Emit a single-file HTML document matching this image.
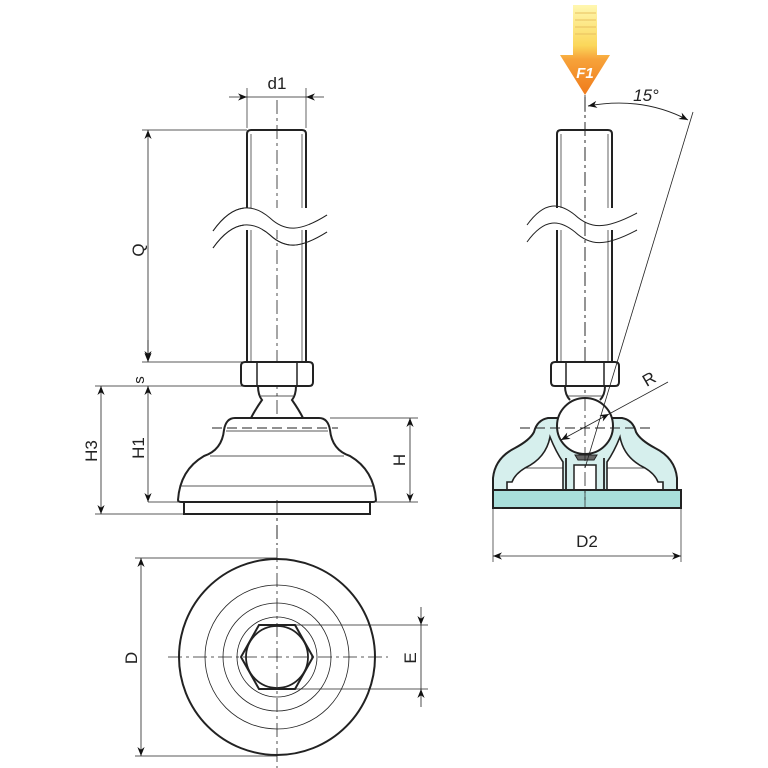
<!DOCTYPE html>
<html><head><meta charset="utf-8"><style>html,body{margin:0;padding:0;background:#fff}svg{display:block}</style></head>
<body>
<svg width="768" height="768" viewBox="0 0 768 768" xmlns="http://www.w3.org/2000/svg" font-family="Liberation Sans, DejaVu Sans, sans-serif">
<defs>
<marker id="a" viewBox="0 0 10 10" refX="10" refY="5" markerWidth="9" markerHeight="9" orient="auto-start-reverse" markerUnits="userSpaceOnUse"><path d="M0,1 L10,5 L0,9 L3,5z" fill="#111"/></marker>
<linearGradient id="g" x1="0" y1="0" x2="0" y2="1"><stop offset="0" stop-color="#fff7b0"/><stop offset="0.45" stop-color="#fbd75a"/><stop offset="0.6" stop-color="#f7a33a"/><stop offset="1" stop-color="#ef7a1a"/></linearGradient>
</defs>
<g fill="none" stroke="#222" stroke-width="1">

<!-- ===== LEFT VIEW ===== -->
<line x1="277" y1="100" x2="277" y2="545" stroke-dasharray="14,4,3,4" stroke-width="0.8"/>
<path d="M247,362 V134 Q247,130 251,130 H302 Q306,130 306,134 V362" stroke-width="2"/>
<line x1="251" y1="134" x2="251" y2="362" stroke-width="0.7"/><line x1="302" y1="134" x2="302" y2="362" stroke-width="0.7"/>
<path d="M213,231 C235,200 255,205 270,218 C285,232 300,232 327,215" stroke-width="1" fill="#fff"/>
<path d="M213,248 C235,217 255,222 270,235 C285,249 300,249 327,232" stroke-width="1"/>
<rect x="244" y="208" width="65" height="22" fill="#fff" stroke="none"/>
<path d="M213,231 C235,200 255,205 270,218 C285,232 300,232 327,215" stroke-width="1"/>
<path d="M213,248 C235,217 255,222 270,235 C285,249 300,249 327,232" stroke-width="1"/>
<!-- nut -->
<path d="M245,362 H309 Q313,362 313,366 V382 Q313,386 309,386 H245 Q241,386 241,382 V366 Q241,362 245,362 Z" stroke-width="2" fill="#fff"/>
<line x1="257" y1="363" x2="257" y2="385" stroke-width="1.5"/><line x1="297" y1="363" x2="297" y2="385" stroke-width="1.5"/>
<!-- neck -->
<path d="M258,386 Q258,395 262,400 Q255,410 251,418 M296,386 Q296,395 292,400 Q299,410 303,418" stroke-width="2"/>
<line x1="261" y1="396" x2="293" y2="396" stroke-width="0.7"/>
<!-- base -->
<path d="M224,430 Q226,418 235,418 H319 Q328,418 330,430 Q332,450 350,456 Q374,470 376,500 Q376,502 372,502 H182 Q178,502 178,500 Q180,470 204,456 Q222,450 224,430 Z" stroke-width="2" fill="#fff"/>
<line x1="212" y1="428" x2="338" y2="428" stroke-dasharray="10,5" stroke-width="0.9"/>
<line x1="226" y1="431" x2="328" y2="431" stroke-width="0.7"/>
<line x1="210" y1="456" x2="344" y2="456" stroke-width="0.7"/>
<line x1="181" y1="486" x2="373" y2="486" stroke-width="0.7"/>
<rect x="184" y="502" width="186" height="12" stroke-width="2" fill="#fff"/>
<line x1="277" y1="500" x2="277" y2="545" stroke-dasharray="14,4,3,4" stroke-width="0.8"/>
<!-- dims left -->
<line x1="247" y1="88" x2="247" y2="128" stroke-width="0.7"/><line x1="306" y1="88" x2="306" y2="128" stroke-width="0.7"/>
<line x1="229" y1="97" x2="247" y2="97" marker-end="url(#a)" stroke-width="0.8"/>
<line x1="324" y1="97" x2="306" y2="97" marker-end="url(#a)" stroke-width="0.8"/>
<line x1="247" y1="97" x2="306" y2="97" stroke-width="0.8"/>
<line x1="142" y1="130" x2="247" y2="130" stroke-width="0.7"/>
<line x1="142" y1="362" x2="243" y2="362" stroke-width="0.7"/>
<line x1="95" y1="386" x2="243" y2="386" stroke-width="0.7"/>
<line x1="148" y1="502" x2="180" y2="502" stroke-width="0.7"/>
<line x1="95" y1="514" x2="184" y2="514" stroke-width="0.7"/>
<line x1="148" y1="130" x2="148" y2="360" marker-start="url(#a)" marker-end="url(#a)" stroke-width="0.8"/>
<line x1="148" y1="340" x2="148" y2="362" marker-end="url(#a)" stroke-width="0.8"/>
<line x1="148" y1="386" x2="148" y2="502" marker-start="url(#a)" marker-end="url(#a)" stroke-width="0.8"/>
<line x1="101" y1="386" x2="101" y2="514" marker-start="url(#a)" marker-end="url(#a)" stroke-width="0.8"/>
<line x1="330" y1="418" x2="418" y2="418" stroke-width="0.7"/>
<line x1="376" y1="502" x2="418" y2="502" stroke-width="0.7"/>
<line x1="410" y1="418" x2="410" y2="502" marker-start="url(#a)" marker-end="url(#a)" stroke-width="0.8"/>

<!-- ===== BOTTOM VIEW ===== -->
<line x1="277" y1="548" x2="277" y2="768" stroke-dasharray="14,4,3,4" stroke-width="0.8"/>
<line x1="168" y1="657" x2="388" y2="657" stroke-dasharray="14,4,3,4" stroke-width="0.8"/>
<circle cx="277" cy="657" r="98" stroke-width="2"/>
<circle cx="277" cy="657" r="72" stroke-width="0.8"/>
<circle cx="277" cy="657" r="54" stroke-width="0.8"/>
<circle cx="277" cy="657" r="40" stroke-width="0.8"/>
<path d="M259,625 H295 L313,657 L295,689 H259 L241,657 Z" stroke-width="2"/>
<circle cx="277" cy="657" r="31" stroke-width="1.8"/>
<line x1="135" y1="558" x2="277" y2="558" stroke-width="0.7"/>
<line x1="135" y1="756" x2="277" y2="756" stroke-width="0.7"/>
<line x1="141" y1="558" x2="141" y2="756" marker-start="url(#a)" marker-end="url(#a)" stroke-width="0.8"/>
<line x1="295" y1="625" x2="428" y2="625" stroke-width="0.7"/>
<line x1="295" y1="689" x2="428" y2="689" stroke-width="0.7"/>
<line x1="421" y1="607" x2="421" y2="625" marker-end="url(#a)" stroke-width="0.8"/>
<line x1="421" y1="707" x2="421" y2="689" marker-end="url(#a)" stroke-width="0.8"/>
<line x1="421" y1="625" x2="421" y2="689" stroke-width="0.8"/>

<!-- ===== RIGHT VIEW ===== -->
<path d="M557,362 V134 Q557,130 561,130 H608 Q612,130 612,134 V362" stroke-width="2"/>
<line x1="561" y1="134" x2="561" y2="362" stroke-width="0.7"/><line x1="608" y1="134" x2="608" y2="362" stroke-width="0.7"/>
<rect x="553" y="208" width="63" height="22" fill="#fff" stroke="none"/>
<path d="M527,225 C545,200 560,203 575,215 C590,229 605,230 637,213" stroke-width="1"/>
<path d="M527,242 C545,217 560,220 575,232 C590,246 605,247 637,230" stroke-width="1"/>
<line x1="585" y1="97" x2="585" y2="500" stroke-dasharray="14,4,3,4" stroke-width="0.8"/>
<!-- housing -->
<path d="M493,493 V478 Q495,458 515,448 Q530,440 534,432 Q537,420 548,418 H560 Q566,418 566,425 L604,425 Q604,418 610,418 H622 Q633,420 636,432 Q640,440 655,448 Q675,458 677,478 V493 Z" fill="#d6efed" stroke-width="2"/>
<path d="M550,437 Q546,458 525,468 Q515,474 512,482 H507 V490 H563 V462 Q556,452 550,437 Z" fill="#fff" stroke-width="1.6"/>
<path d="M620,437 Q624,458 645,468 Q655,474 658,482 H663 V490 H607 V462 Q614,452 620,437 Z" fill="#fff" stroke-width="1.6"/>
<line x1="525" y1="468" x2="563" y2="468" stroke-width="0.7"/><line x1="607" y1="468" x2="645" y2="468" stroke-width="0.7"/>
<path d="M566,458 V495 Q566,500 571,500 H599 Q604,500 604,495 V458" fill="#d6efed" stroke-width="1.8"/>
<rect x="574" y="465" width="22" height="35" fill="#fff" stroke-width="1.5"/>
<rect x="493" y="490" width="188" height="18" fill="#a9dfdb" stroke-width="2"/>
<line x1="585" y1="490" x2="585" y2="508" stroke-width="0.7"/>
<!-- neck & ball -->
<path d="M565,386 Q565,395 570,400 M605,386 Q605,395 600,400" stroke-width="2"/>
<line x1="567" y1="396" x2="603" y2="396" stroke-width="0.7"/>
<circle cx="585" cy="426" r="28" fill="#fff" stroke-width="2"/>
<path d="M575,455 H597 L594,460 H578 Z" fill="#666" stroke-width="1"/>
<line x1="520" y1="428" x2="650" y2="428" stroke-dasharray="10,5" stroke-width="0.9"/>
<line x1="585" y1="97" x2="585" y2="500" stroke-dasharray="14,4,3,4" stroke-width="0.8"/>
<!-- nut -->
<path d="M555,362 H615 Q619,362 619,366 V382 Q619,386 615,386 H555 Q551,386 551,382 V366 Q551,362 555,362 Z" stroke-width="2" fill="#fff"/>
<line x1="566" y1="363" x2="566" y2="385" stroke-width="1.5"/><line x1="604" y1="363" x2="604" y2="385" stroke-width="1.5"/>
<!-- angle and R -->
<line x1="585" y1="468" x2="693" y2="112" stroke-width="0.8"/>
<line x1="585" y1="95" x2="585" y2="112" stroke-width="0.8"/>
<path d="M588,106 Q642,96 688,120" stroke-width="0.9" marker-start="url(#a)" marker-end="url(#a)"/>
<line x1="561" y1="440" x2="609" y2="414" marker-start="url(#a)" marker-end="url(#a)" stroke-width="0.8"/>
<line x1="609" y1="414" x2="668" y2="382" stroke-width="0.8"/>
<!-- D2 -->
<line x1="493" y1="508" x2="493" y2="562" stroke-width="0.7"/><line x1="681" y1="508" x2="681" y2="562" stroke-width="0.7"/>
<line x1="493" y1="556" x2="681" y2="556" marker-start="url(#a)" marker-end="url(#a)" stroke-width="0.8"/>
</g>

<!-- F1 arrow -->
<path d="M573,5 H597 V55 H610 L585,95 L560,55 H573 Z" fill="url(#g)"/>
<g stroke="#e8c060" stroke-width="1"><line x1="575" y1="13" x2="596" y2="13"/><line x1="575" y1="20" x2="596" y2="20"/><line x1="575" y1="27" x2="596" y2="27"/><line x1="575" y1="34" x2="596" y2="34"/></g>
<text x="585" y="78" font-size="15" font-weight="bold" fill="#fff" text-anchor="middle" font-style="italic">F1</text>

<g fill="#222" font-size="17">
<text x="277" y="89" text-anchor="middle">d1</text>
<text x="144" y="250" text-anchor="middle" transform="rotate(-90 144 250)">Q</text>
<text x="144" y="380" text-anchor="middle" transform="rotate(-90 144 380)" font-size="15">s</text>
<text x="144" y="448" text-anchor="middle" transform="rotate(-90 144 448)">H1</text>
<text x="97" y="451" text-anchor="middle" transform="rotate(-90 97 451)">H3</text>
<text x="405" y="460" text-anchor="middle" transform="rotate(-90 405 460)">H</text>
<text x="137" y="658" text-anchor="middle" transform="rotate(-90 137 658)">D</text>
<text x="416" y="658" text-anchor="middle" transform="rotate(-90 416 658)">E</text>
<text x="587" y="547" text-anchor="middle">D2</text>
<text x="646" y="101" text-anchor="middle" font-style="italic">15°</text>
<text x="652" y="384" text-anchor="middle" transform="rotate(-30 652 384)">R</text>
</g>
</svg>
</body></html>
